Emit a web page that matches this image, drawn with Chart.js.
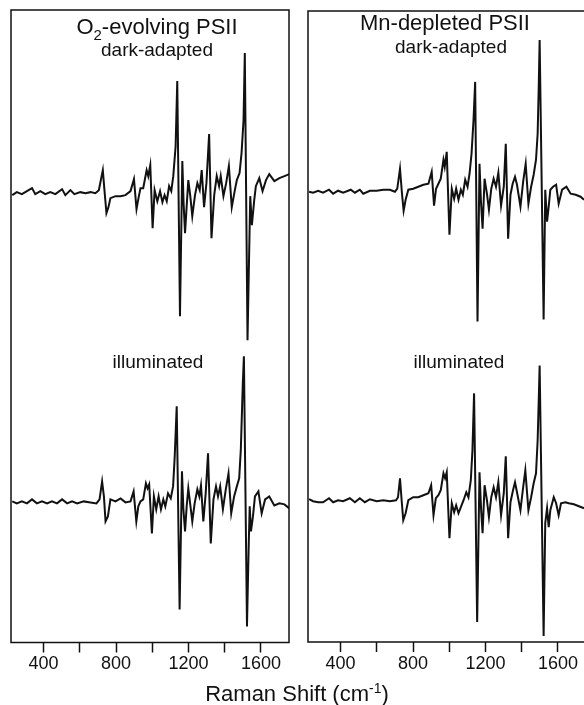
<!DOCTYPE html>
<html>
<head>
<meta charset="utf-8">
<script src="https://cdn.jsdelivr.net/npm/chart.js@4.4.0/dist/chart.umd.min.js"></script>
<style>
  body { margin: 0; width: 584px; height: 705px; overflow: hidden; position: relative; background: #fff; }
  canvas { position: absolute; top: 0; }
  .lbl { position: absolute; text-align: center; line-height: 1; color: #111;
         font-family: "Liberation Sans", Arial, sans-serif; white-space: nowrap; }
  .big { font-size: 22px; }
  .small { font-size: 19px; }
  .sub { position: relative; top: 6px; font-size: 15px; }
  .sup { position: relative; top: -8px; font-size: 14px; }
</style>
</head>
<body>
<canvas id="o2Chart" width="300" height="705" style="left:0"></canvas>
<canvas id="mnChart" width="302" height="705" style="left:296px"></canvas>

<div class="lbl big" style="left:7px; width:300px; top:16px">O<span class="sub">2</span>-evolving PSII</div>
<div class="lbl small" style="left:7px; width:300px; top:40px">dark-adapted</div>
<div class="lbl small" style="left:8px; width:300px; top:352px">illuminated</div>

<div class="lbl big" style="left:295px; width:300px; top:12px">Mn-depleted PSII</div>
<div class="lbl small" style="left:301px; width:300px; top:37px">dark-adapted</div>
<div class="lbl small" style="left:309px; width:300px; top:352px">illuminated</div>

<div class="lbl big" style="left:147px; width:300px; top:683px">Raman Shift (cm<span class="sup">-1</span>)</div>

<script>
// x axis
const shiftMin = 220;
const shiftMax = 1755;
const shiftTicks = [400, 600, 800, 1000, 1200, 1400, 1600];
const shiftLabels = [400, 800, 1200, 1600];

// O2-evolving PSII, dark-adapted
const o2DarkShift = [227,252,280,308,336,354,382,409,437,465,502,520,548,570,603,631,659,686,705,727,
  736,747,758,769,797,825,852,880,899,913,924,935,950,969,978,989,1002,1013,1028,1043,
  1056,1068,1080,1093,1105,1116,1129,1138,1153,1166,1173,1181,1190,1199,1210,1221,1236,1249,1262,1273,
  1286,1299,1314,1327,1342,1356,1369,1378,1393,1408,1423,1439,1456,1467,1482,1493,1504,1511,1526,1535,
  1541,1550,1563,1572,1591,1609,1628,1646,1674,1702,1730,1757];
const o2DarkInt = [-2,1,-1,2,5,-1,2,-1,1,-1,4,-2,3,-1,1,0,1,0,3,23,
  3,-20,-14,-5,-3,-3,-2,2,14,-16,-5,5,5,23,17,28,-35,3,-8,2,
  -9,-2,-8,7,2,17,47,112,-123,32,-10,-40,-13,13,-3,-23,-2,10,3,23,
  -14,10,59,-45,-2,17,7,17,-3,10,27,-14,3,13,20,40,73,140,-147,-60,
  -3,-32,-7,7,15,2,13,19,12,15,17,19];

// O2-evolving PSII, illuminated
const o2LightShift = [227,252,280,308,336,363,391,419,446,474,502,530,557,585,622,659,692,709,723,733,
  742,755,769,797,825,852,880,897,912,923,935,950,965,974,983,998,1009,1022,1035,1048,
  1061,1072,1087,1102,1115,1124,1135,1151,1164,1172,1181,1190,1199,1209,1221,1234,1249,1260,1269,1282,
  1295,1308,1323,1338,1352,1363,1375,1390,1406,1421,1436,1452,1467,1480,1489,1500,1506,1523,1532,1538,
  1545,1556,1567,1586,1604,1623,1646,1674,1702,1730,1757];
const o2LightInt = [1,-1,1,-1,3,-1,1,-1,1,-1,3,-1,1,-1,1,0,-1,3,21,6,
  -19,-14,3,1,4,0,1,11,-19,-4,1,3,19,14,18,-31,6,-7,6,-7,
  3,-4,9,4,16,46,96,-107,31,-7,-29,-4,14,-1,-19,-1,13,6,17,-19,
  9,49,-41,3,16,6,16,-7,13,29,-11,6,16,24,53,119,146,-124,-47,-4,
  -29,-14,6,11,-11,3,6,-3,-1,-2,-6];

// Mn-depleted PSII, dark-adapted
const mnDarkShift = [226,248,276,303,336,359,386,414,456,479,506,525,562,599,636,672,700,713,728,739,
  748,759,774,801,829,857,885,903,916,927,940,953,968,975,986,1001,1014,1027,1038,1051,
  1064,1075,1088,1101,1112,1123,1134,1143,1156,1167,1175,1184,1195,1208,1219,1232,1245,1258,1271,1286,
  1301,1312,1325,1338,1350,1363,1374,1393,1408,1422,1437,1452,1466,1479,1488,1494,1499,1521,1530,1540,
  1549,1558,1573,1590,1604,1623,1647,1670,1698,1725,1744];
const mnDarkInt = [0,-1,1,-1,2,-2,1,-1,2,-1,2,-2,1,1,2,2,0,3,23,-2,
  -19,-8,2,3,5,7,8,20,-14,3,8,13,32,25,40,-43,3,-7,3,-8,
  2,-3,12,5,18,38,72,110,-130,28,-10,-37,13,-2,-18,3,13,5,19,-14,
  5,48,-47,-3,8,15,7,-15,10,28,-12,5,17,32,58,105,152,-128,2,-30,
  -15,2,5,7,-12,2,5,-2,-3,-5,-8];

// Mn-depleted PSII, illuminated
const mnLightShift = [226,248,276,303,336,359,386,414,451,479,506,534,562,599,636,672,706,717,728,737,
  746,759,774,801,829,857,885,900,913,926,940,953,968,977,986,1001,1014,1027,1038,1051,
  1064,1079,1094,1106,1119,1128,1137,1154,1167,1176,1184,1195,1208,1219,1232,1245,1258,1271,1286,1301,
  1312,1325,1338,1352,1363,1374,1393,1408,1420,1437,1452,1466,1479,1488,1494,1499,1521,1530,1540,1549,
  1558,1577,1590,1604,1617,1641,1660,1688,1716,1744];
const mnLightInt = [1,-1,-2,-2,2,-2,0,-1,2,-2,2,-2,1,-1,0,-1,0,3,22,0,
  -20,-13,0,3,3,5,7,15,-15,2,5,10,27,22,28,-38,-3,-12,-5,-13,
  -7,0,8,3,20,50,107,-122,28,-10,-33,15,0,-17,3,13,3,18,-15,7,
  44,-38,-2,10,18,8,-10,13,30,-10,3,17,27,60,100,135,-136,-23,-8,-27,
  -10,3,-3,-15,-3,-2,-3,-4,-6,-8];

// vertical stacking of the two spectra in each panel
const yRange = 632;

const framePlugin = {
  id: "frame",
  afterDraw(chart) {
    const { ctx, chartArea: a } = chart;
    ctx.save();
    ctx.strokeStyle = "#111";
    ctx.lineWidth = 1.5;
    ctx.strokeRect(a.left, a.top, a.right - a.left, a.bottom - a.top);
    ctx.restore();
  }
};

function trace(shift, intensity, offset) {
  return {
    data: shift.map((s, i) => ({ x: s, y: intensity[i] + offset })),
    borderColor: "#111",
    borderWidth: 2,
    pointRadius: 0,
    tension: 0,
    fill: false
  };
}

function drawPanel(id, darkShift, darkInt, lightShift, lightInt, darkOffset, lightOffset, pad, axisHeight) {
  new Chart(document.getElementById(id), {
    type: "line",
    data: {
      datasets: [
        trace(darkShift, darkInt, darkOffset),
        trace(lightShift, lightInt, lightOffset)
      ]
    },
    options: {
      responsive: false,
      animation: false,
      layout: { padding: pad },
      plugins: { legend: { display: false }, tooltip: { enabled: false } },
      scales: {
        x: {
          type: "linear",
          min: shiftMin,
          max: shiftMax,
          afterBuildTicks: scale => { scale.ticks = shiftTicks.map(v => ({ value: v })); },
          afterFit: scale => { scale.height = axisHeight; },
          border: { display: false },
          grid: {
            drawOnChartArea: false,
            drawTicks: true,
            tickLength: 10,
            tickWidth: 1.5,
            tickColor: "#111"
          },
          ticks: {
            autoSkip: false,
            maxRotation: 0,
            padding: 1,
            color: "#111",
            font: { family: "'Liberation Sans', Arial, sans-serif", size: 18 },
            callback: v => shiftLabels.includes(v) ? String(v) : ""
          }
        },
        y: { display: false, min: 0, max: yRange }
      }
    },
    plugins: [framePlugin]
  });
}

drawPanel("o2Chart", o2DarkShift, o2DarkInt, o2LightShift, o2LightInt, 449, 140,
  { left: 11, right: 11, top: 10, bottom: 0 }, 62.5);
drawPanel("mnChart", mnDarkShift, mnDarkInt, mnLightShift, mnLightInt, 451, 142,
  { left: 12, right: 12, top: 11, bottom: 0 }, 63);
</script>
</body>
</html>
